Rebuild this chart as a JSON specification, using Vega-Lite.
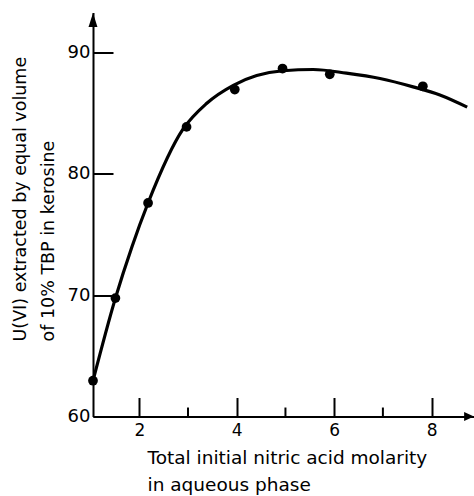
{
  "$schema": "https://vega.github.io/schema/vega-lite/v6.json",
  "width": 381,
  "height": 404,
  "autosize": {"type": "none"},
  "padding": {"left": 93, "top": 12.5, "right": 0, "bottom": 79.5},
  "background": "white",
  "config": {"view": {"stroke": null}, "font": "DejaVu Sans"},
  "datasets": {
    "points": [
      {"x": 1.05, "y": 62.95},
      {"x": 1.51, "y": 69.76},
      {"x": 2.18, "y": 77.6},
      {"x": 2.97, "y": 83.87},
      {"x": 3.96, "y": 86.95},
      {"x": 4.94, "y": 88.68},
      {"x": 5.91, "y": 88.21},
      {"x": 7.82, "y": 87.22}
    ],
    "curve": [
      {"x": 1.05, "y": 62.95},
      {"x": 1.51, "y": 69.76},
      {"x": 1.85, "y": 74.0},
      {"x": 2.18, "y": 77.6},
      {"x": 2.9, "y": 83.7},
      {"x": 3.38, "y": 85.8},
      {"x": 3.93, "y": 87.3},
      {"x": 4.41, "y": 88.1},
      {"x": 4.95, "y": 88.5},
      {"x": 5.57, "y": 88.6},
      {"x": 6.25, "y": 88.3},
      {"x": 6.94, "y": 87.86},
      {"x": 7.62, "y": 87.17},
      {"x": 8.17, "y": 86.5},
      {"x": 8.73, "y": 85.5}
    ],
    "minor": [{"x": 3}, {"x": 5}, {"x": 7}],
    "arrowY": [{"x": 1.05, "y": 92.69}],
    "arrowX": [{"x": 8.77, "y": 60}]
  },
  "layer": [
    {
      "data": {"name": "curve"},
      "mark": {"type": "line", "interpolate": "monotone", "color": "black", "strokeWidth": 3.2},
      "encoding": {
        "x": {
          "field": "x", "type": "quantitative",
          "scale": {"domain": [1.05, 8.87], "nice": false, "zero": false},
          "axis": {
            "values": [2, 4, 6, 8],
            "grid": false,
            "tickSize": -19, "tickWidth": 2, "tickColor": "black",
            "domainWidth": 2, "domainColor": "black",
            "labelFontSize": 17, "labelPadding": 25, "labelColor": "black",
            "title": ["Total initial nitric acid molarity", "in aqueous phase"],
            "titleFontSize": 18.5, "titleFontWeight": "normal", "titleColor": "black",
            "titleAlign": "left", "titleAnchor": "start", "titleBaseline": "alphabetic",
            "titleX": 54, "titleY": 46.5, "titleLineHeight": 27
          }
        },
        "y": {
          "field": "y", "type": "quantitative",
          "scale": {"domain": [60, 93.3], "nice": false, "zero": false},
          "axis": {
            "values": [60, 70, 80, 90],
            "grid": false,
            "tickSize": -20, "tickWidth": 2, "tickColor": "black",
            "domainWidth": 2, "domainColor": "black",
            "labelFontSize": 18, "labelPadding": 23, "labelColor": "black",
            "title": ["U(VI) extracted by equal volume", "of 10% TBP in kerosine"],
            "titleFontSize": 17.5, "titleFontWeight": "normal", "titleColor": "black",
            "titleAngle": -90, "titleAlign": "left", "titleBaseline": "alphabetic",
            "titleX": -68, "titleY": 328.5, "titleLineHeight": 28
          }
        }
      }
    },
    {
      "data": {"name": "points"},
      "mark": {"type": "point", "filled": true, "color": "black", "size": 95, "opacity": 1},
      "encoding": {
        "x": {"field": "x", "type": "quantitative"},
        "y": {"field": "y", "type": "quantitative"}
      }
    },
    {
      "data": {"name": "minor"},
      "mark": {"type": "rule", "color": "black", "strokeWidth": 2},
      "encoding": {
        "x": {"field": "x", "type": "quantitative"},
        "y": {"datum": 60},
        "y2": {"datum": 60.74}
      }
    },
    {
      "data": {"name": "arrowY"},
      "mark": {"type": "point", "filled": true, "color": "black", "opacity": 1, "size": 196, "shape": "M0,-1L0.64,1L-0.64,1Z"},
      "encoding": {
        "x": {"field": "x", "type": "quantitative"},
        "y": {"field": "y", "type": "quantitative"}
      }
    },
    {
      "data": {"name": "arrowX"},
      "mark": {"type": "point", "filled": true, "color": "black", "opacity": 1, "size": 100, "shape": "M1,0L-1,-0.9L-1,0.9Z"},
      "encoding": {
        "x": {"field": "x", "type": "quantitative"},
        "y": {"field": "y", "type": "quantitative"}
      }
    }
  ]
}
